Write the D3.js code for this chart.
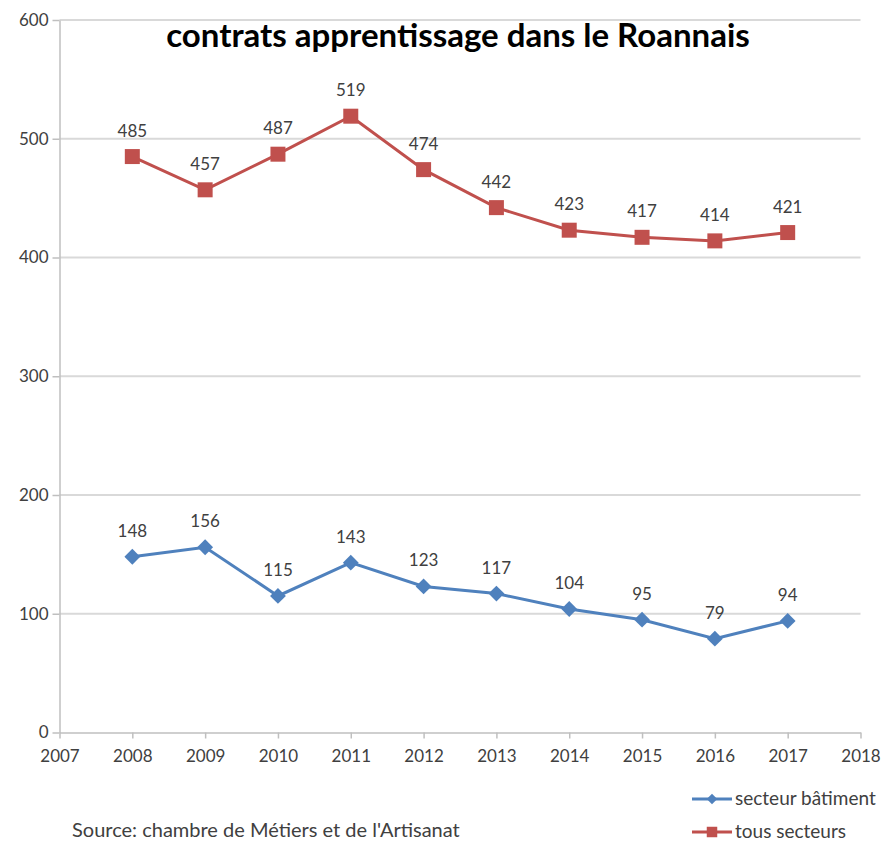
<!DOCTYPE html>
<meta charset="utf-8">
<style>
body { margin: 0; background: #fff; }
text { font-family: Lato, "Open Sans", sans-serif; fill: #404040; }
.title { font-weight: bold; fill: #000; font-size: 33px; }
.tick text { font-size: 17px; }
.lbl { font-size: 17px; text-anchor: middle; }
</style>
<svg width="885" height="844"></svg>
<script src="https://d3js.org/d3.v7.min.js"></script>
<script>
var years = [2008, 2009, 2010, 2011, 2012, 2013, 2014, 2015, 2016, 2017];
var batiment = [148, 156, 115, 143, 123, 117, 104, 95, 79, 94];
var tous = [485, 457, 487, 519, 474, 442, 423, 417, 414, 421];
var xTicks = [2007, 2008, 2009, 2010, 2011, 2012, 2013, 2014, 2015, 2016, 2017, 2018];
var yTicks = [0, 100, 200, 300, 400, 500, 600];

var svg = d3.select("svg");
var x = d3.scaleLinear().domain([2007, 2018]).range([59.5, 860.5]);
var y = d3.scaleLinear().domain([0, 600]).range([732.5, 20]);

// grid
svg.append("g").selectAll("line")
  .data(yTicks.slice(1))
  .enter().append("line")
  .attr("x1", 59.5).attr("x2", 860.5)
  .attr("y1", function(d) { return y(d); }).attr("y2", function(d) { return y(d); })
  .attr("stroke", "#d9d9d9").attr("stroke-width", 2);

var yAxis = svg.append("g")
  .attr("transform", "translate(59.5,0)")
  .call(d3.axisLeft(y).tickValues(yTicks).tickSize(7).tickPadding(4).tickSizeOuter(0));
yAxis.selectAll("path, line").attr("stroke", "#bfbfbf").attr("stroke-width", 1.5);
yAxis.selectAll(".tick text").attr("dy", "0.32em");

var xAxis = svg.append("g")
  .attr("transform", "translate(0,732.5)")
  .call(d3.axisBottom(x).tickValues(xTicks).tickFormat(d3.format("d")).tickSize(6).tickPadding(11).tickSizeOuter(0));
xAxis.selectAll("path, line").attr("stroke", "#bfbfbf").attr("stroke-width", 1.5);

svg.append("text").attr("class", "title")
  .attr("x", 458).attr("y", 47).attr("text-anchor", "middle")
  .text("contrats apprentissage dans le Roannais");

function series(vals, color, shape, size, rot) {
  var pts = years.map(function(d, i) { return [x(d), y(vals[i])]; });
  svg.append("path")
    .attr("d", d3.line()(pts))
    .attr("fill", "none").attr("stroke", color).attr("stroke-width", 3);
  svg.append("g").selectAll("path")
    .data(pts).enter().append("path")
    .attr("transform", function(d) { return "translate(" + d[0] + "," + d[1] + ") rotate(" + rot + ")"; })
    .attr("d", d3.symbol().type(shape).size(size))
    .attr("fill", color);
  svg.append("g").selectAll("text")
    .data(vals).enter().append("text")
    .attr("class", "lbl")
    .attr("x", function(d, i) { return x(years[i]); })
    .attr("y", function(d) { return y(d) - 20; })
    .text(function(d) { return d; });
}

series(tous, "#c0504d", d3.symbolSquare, 225, 0);
series(batiment, "#4f81bd", d3.symbolSquare, 125, 45);

// legend
var legend = [["secteur bâtiment", "#4f81bd", 55, 45, 799], ["tous secteurs", "#c0504d", 110, 0, 832]];
legend.forEach(function(l) {
  svg.append("line").attr("x1", 692).attr("x2", 732).attr("y1", l[4]).attr("y2", l[4])
    .attr("stroke", l[1]).attr("stroke-width", 3);
  svg.append("path").attr("transform", "translate(712," + l[4] + ") rotate(" + l[3] + ")")
    .attr("d", d3.symbol().type(d3.symbolSquare).size(l[2])).attr("fill", l[1]);
  svg.append("text").attr("x", 735).attr("y", l[4] + 6).style("font-size", "19px").text(l[0]);
});

svg.append("text").attr("x", 72).attr("y", 837).style("font-size", "20px")
  .text("Source: chambre de Métiers et de l'Artisanat");
</script>
